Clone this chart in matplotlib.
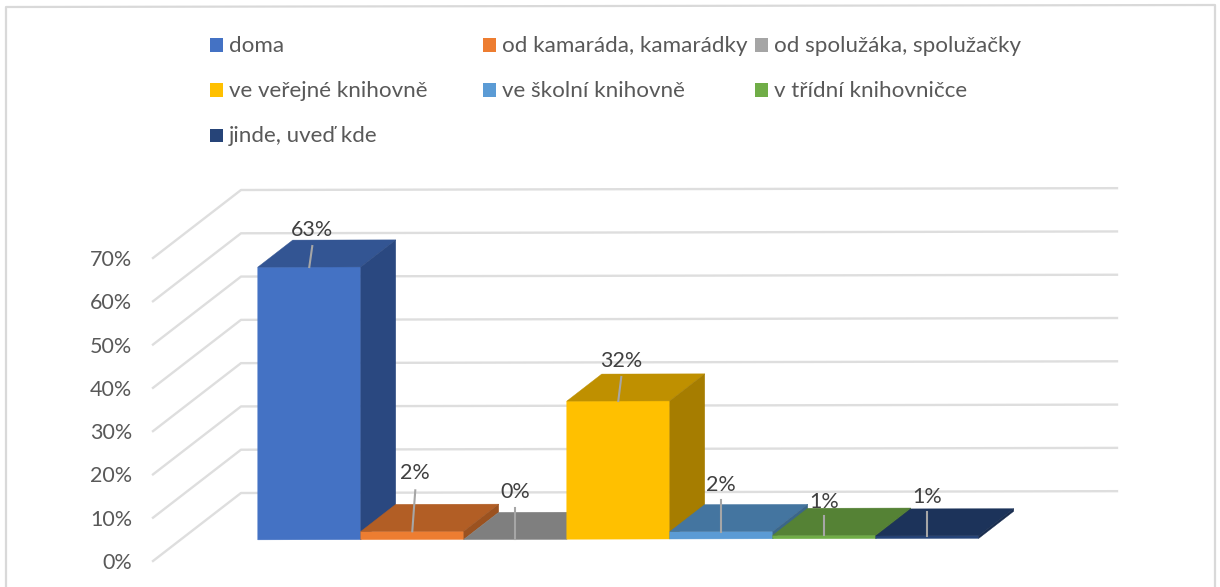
import matplotlib
matplotlib.use("Agg")
import matplotlib.pyplot as plt
from matplotlib.patches import Polygon, Rectangle
from matplotlib.lines import Line2D

# ---- data ----
categories = ["doma", "od kamaráda, kamarádky", "od spolužáka, spolužačky",
              "ve veřejné knihovně", "ve školní knihovně", "v třídní knihovničce",
              "jinde, uveď kde"]
values = [63, 1.9, 0, 31.9, 1.7, 0.8, 0.6]
y_ticks = [0, 10, 20, 30, 40, 50, 60, 70]
y_tick_labels = ["0%", "10%", "20%", "30%", "40%", "50%", "60%", "70%"]

# ---- style ----
front_colors = ["#4472C4", "#ED7D31", "#A5A5A5", "#FFC000", "#5B9BD5", "#70AD47", "#264478"]
top_colors = ["#335593", "#B25E25", "#7F7F7F", "#BF9000", "#4475A0", "#558235", "#1C335A"]
side_colors = ["#2A4880", "#9B5220", "#6C6C6C", "#A67D00", "#3B6689", "#49712E", "#182C4E"]
GRID = "#DEDEDE"
TEXT = "#595959"
LABEL = "#404040"
LEADER = "#A6A6A6"
FONT = "Lato"

W, H = 1220, 587
fig = plt.figure(figsize=(W / 100, H / 100), dpi=100, facecolor="white")

# Front plane of the 3D box, pixel placement of the axes
PX_L, PX_R, PX_T, PX_B = 153, 1029, 258, 561
ax = fig.add_axes([PX_L / W, 1 - PX_B / H, (PX_R - PX_L) / W, (PX_B - PX_T) / H])
ax.patch.set_visible(False)
for s in ax.spines.values():
    s.set_visible(False)

BAR_W_PX = 103.0
x0 = -0.5 - 77.5 / BAR_W_PX
ax.set_xlim(x0, x0 + (PX_R - PX_L) / BAR_W_PX)
ax.set_ylim(0, 70)
PX_PER_PCT = (PX_B - PX_T) / 70.0

DEPTH_DX = 88 / BAR_W_PX      # categories for a full-depth step
DEPTH_DY = 68 / PX_PER_PCT    # percent for a full-depth step
TILT = 0.05                   # slight rotation of the original's projection
T0, T1 = 0.31, 0.707          # bar depth range


def proj(x, y, t=0.0):
    return (x + t * DEPTH_DX, y + t * DEPTH_DY + TILT * (x + t * DEPTH_DX + 0.5))


ax.set_xticks([])
ax.set_yticks(y_ticks, y_tick_labels, fontsize=15.5, color=TEXT, family=FONT)
ax.tick_params(axis="y", length=0, pad=15)

# walls: diagonal plus back gridline for each tick
xl, xr = ax.get_xlim()
for v in y_ticks:
    pts = [(xl, v + 0.0), (xl + DEPTH_DX, v + DEPTH_DY),
           (xr + DEPTH_DX, v + DEPTH_DY + TILT * (xr - xl))]
    ax.add_line(Line2D(*zip(*pts), color=GRID, lw=1.7, clip_on=False, zorder=1))


def poly(points, color, z):
    ax.add_patch(Polygon(points, closed=True, facecolor=color, edgecolor=color,
                         lw=0.3, clip_on=False, zorder=z))


# (label dx px, leader-length px, gap from bar top to label centre in px)
label_offsets = [(3, 21, 37), (3, 41, 58), (0, 31, 47), (3, 24, 40),
                 (0, 32, 47), (0, 19, 33), (0, 24, 39)]

for i, (v, fc, tc, sc) in enumerate(zip(values, front_colors, top_colors, side_colors)):
    l, r = i - 0.5, i + 0.5
    z = 3 + i
    poly([proj(l, 0, T0), proj(r, 0, T0), proj(r, v, T0), proj(l, v, T0)], fc, z)
    poly([proj(l, v, T0), proj(r, v, T0), proj(r, v, T1), proj(l, v, T1)], tc, z)
    poly([proj(r, 0, T0), proj(r, 0, T1), proj(r, v, T1), proj(r, v, T0)], sc, z)

for i, v in enumerate(values):
    dx, lead, gap = label_offsets[i]
    cx, cy = proj(i, v, T0)
    ax.add_line(Line2D([cx, cx + dx / BAR_W_PX], [cy, cy + lead / PX_PER_PCT],
                       color=LEADER, lw=1.5, clip_on=False, zorder=20))
    ax.text(cx + dx / BAR_W_PX, cy + gap / PX_PER_PCT, f"{v:.0f}%", ha="center",
            va="center", fontsize=15.5, color=LABEL, family=FONT, zorder=21)

# legend and frame, placed in figure pixels
legend_x = [210, 482.5, 755]
legend_y = [45, 90, 135]
for i, (name, color) in enumerate(zip(categories, front_colors)):
    col, row = i % 3, i // 3
    lx, ly = legend_x[col], legend_y[row]
    fig.add_artist(Rectangle((lx / W, 1 - (ly + 6.5) / H), 13 / W, 13 / H,
                             transform=fig.transFigure, facecolor=color, edgecolor="none"))
    fig.text((lx + 19) / W, 1 - (ly + 1) / H, name, ha="left", va="center",
             fontsize=16.1, color=TEXT, family=FONT)

frame_x = [6, 6, 1215, 1215]
frame_y = [587, 7, 5, 587]
fig.add_artist(Line2D([x / W for x in frame_x], [1 - y / H for y in frame_y],
                      transform=fig.transFigure, color="#D9D9D9", lw=1.6))

fig.savefig("out.png", dpi=100, facecolor="white")
